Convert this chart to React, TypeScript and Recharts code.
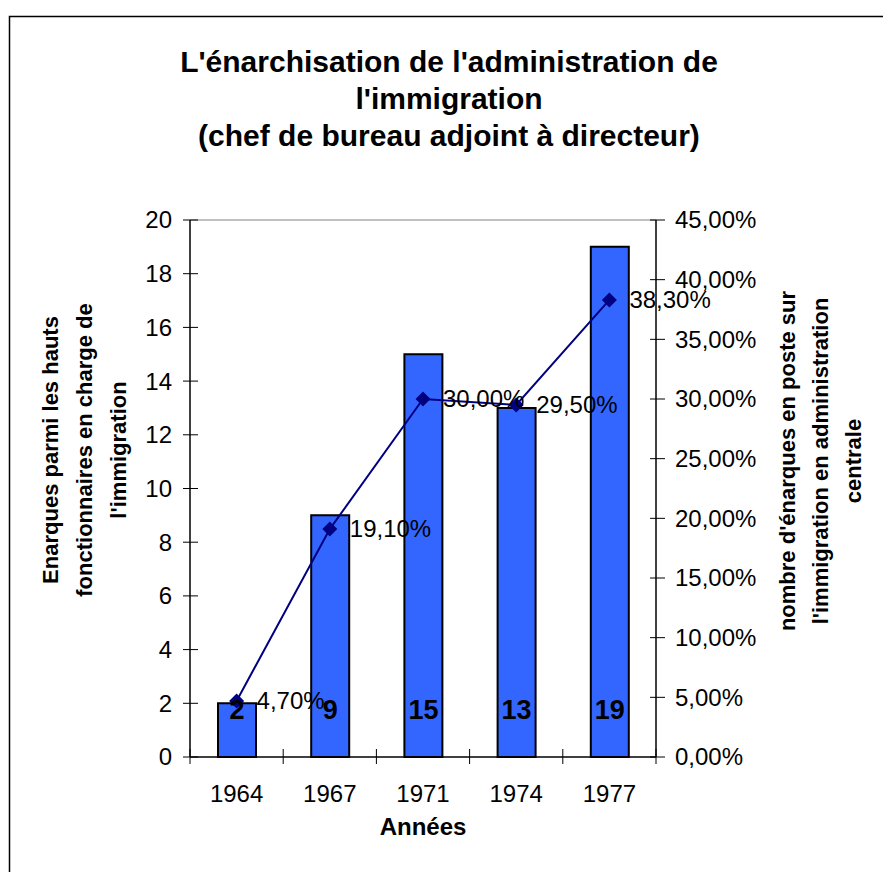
import React from "react";
import {
  ComposedChart, Bar, Line, XAxis, YAxis, LabelList, ReferenceLine,
} from "recharts";

const years = ["1964", "1967", "1971", "1974", "1977"];
const enarques = [2, 9, 15, 13, 19];
const partEnarques = [4.7, 19.1, 30.0, 29.5, 38.3];
const leftTicks = [0, 2, 4, 6, 8, 10, 12, 14, 16, 18, 20];
const rightTicks = [0, 5, 10, 15, 20, 25, 30, 35, 40, 45];

const titleLines = [
  "L'énarchisation de l'administration de",
  "l'immigration",
  "(chef de bureau adjoint à directeur)",
];
const leftTitle = [
  "Enarques parmi les hauts",
  "fonctionnaires en charge de",
  "l'immigration",
];
const rightTitle = [
  "nombre d'énarques en poste sur",
  "l'immigration en administration",
  "centrale",
];

const data = years.map((y, i) => ({
  year: y,
  count: enarques[i],
  pct: partEnarques[i],
}));

const FONT = "'Liberation Sans', Arial, sans-serif";
const BAND = 466 / years.length;

const fmtPct = (v: number) => v.toFixed(2).replace(".", ",") + "%";

function LeftTick({ x, y, payload }: any) {
  return (
    <g>
      <line x1={x - 7} x2={x + 8} y1={y} y2={y} stroke="#000" />
      <text x={x - 18} y={y} dy="0.35em" textAnchor="end" fontSize={24} fontFamily={FONT} fill="#000">
        {payload.value}
      </text>
    </g>
  );
}

function RightTick({ x, y, payload }: any) {
  return (
    <g>
      <line x1={x - 6} x2={x + 9} y1={y} y2={y} stroke="#000" />
      <text x={x + 19} y={y} dy="0.35em" textAnchor="start" fontSize={24} fontFamily={FONT} fill="#000">
        {fmtPct(payload.value)}
      </text>
    </g>
  );
}

function BottomTick({ x, y, payload, index }: any) {
  return (
    <g>
      <line x1={x - BAND / 2} x2={x - BAND / 2} y1={y - 8} y2={y + 7} stroke="#000" />
      {index === years.length - 1 && (
        <line x1={x + BAND / 2} x2={x + BAND / 2} y1={y - 8} y2={y + 7} stroke="#000" />
      )}
      <text x={x} y={y + 45} textAnchor="middle" fontSize={24} fontFamily={FONT} fill="#000">
        {payload.value}
      </text>
    </g>
  );
}

function Diamond({ cx, cy }: any) {
  const s = 7.5;
  return (
    <polygon
      points={`${cx},${cy - s} ${cx + s},${cy} ${cx},${cy + s} ${cx - s},${cy}`}
      fill="#000080"
    />
  );
}

function BarValue({ x, y, width, height, value }: any) {
  return (
    <text
      x={x + width / 2}
      y={y + height - 47}
      dy="0.35em"
      textAnchor="middle"
      fontSize={27}
      fontWeight="bold"
      fontFamily={FONT}
      fill="#000"
    >
      {value}
    </text>
  );
}

function PctValue({ x, y, value }: any) {
  return (
    <text x={x + 20} y={y} dy="0.35em" textAnchor="start" fontSize={24} fontFamily={FONT} fill="#000">
      {fmtPct(value)}
    </text>
  );
}

export default function App() {
  return (
    <div style={{ position: "absolute", left: 0, top: 0, width: 883, height: 872, overflow: "hidden", background: "#fff" }}>
      <ComposedChart
        width={883}
        height={872}
        data={data}
        margin={{ top: 220, right: 167, bottom: 75, left: 130 }}
      >
        <XAxis
          dataKey="year"
          axisLine={{ stroke: "#000", strokeWidth: 1.5 }}
          tickLine={false}
          tickSize={0}
          tickMargin={0}
          height={40}
          tick={<BottomTick />}
          interval={0}
        />
        <YAxis
          yAxisId="left"
          domain={[0, 20]}
          ticks={leftTicks}
          interval={0}
          width={60}
          axisLine={{ stroke: "#000", strokeWidth: 1.5 }}
          tickLine={false}
          tickSize={0}
          tickMargin={0}
          tick={<LeftTick />}
        />
        <YAxis
          yAxisId="right"
          orientation="right"
          domain={[0, 45]}
          ticks={rightTicks}
          interval={0}
          width={60}
          axisLine={{ stroke: "#000", strokeWidth: 1.5 }}
          tickLine={false}
          tickSize={0}
          tickMargin={0}
          tick={<RightTick />}
        />
        <ReferenceLine yAxisId="left" y={20} stroke="#808080" />
        <Bar
          yAxisId="left"
          dataKey="count"
          fill="#3366FF"
          stroke="#000"
          strokeWidth={2}
          barSize={38}
          isAnimationActive={false}
        >
          <LabelList dataKey="count" content={<BarValue />} />
        </Bar>
        <Line
          yAxisId="right"
          type="linear"
          dataKey="pct"
          stroke="#000080"
          strokeWidth={2}
          dot={<Diamond />}
          activeDot={false}
          isAnimationActive={false}
        >
          <LabelList dataKey="pct" content={<PctValue />} />
        </Line>
      </ComposedChart>
      <svg width={883} height={872} style={{ position: "absolute", left: 0, top: 0, pointerEvents: "none" }}>
        <rect x={9.5} y={16.5} width={1000} height={1000} fill="none" stroke="#000" strokeWidth={1.5} />
        {titleLines.map((t, i) => (
          <text key={i} x={449} y={72 + i * 37} textAnchor="middle" fontSize={30} fontWeight="bold" fontFamily={FONT} fill="#000">
            {t}
          </text>
        ))}
        {leftTitle.map((t, i) => (
          <text
            key={i}
            transform={`translate(${50 + i * 34},450) rotate(-90)`}
            dy="0.35em"
            textAnchor="middle"
            fontSize={22}
            fontWeight="bold"
            fontFamily={FONT}
            fill="#000"
          >
            {t}
          </text>
        ))}
        {rightTitle.map((t, i) => (
          <text
            key={i}
            transform={`translate(${787 + i * 33},461) rotate(-90)`}
            dy="0.35em"
            textAnchor="middle"
            fontSize={22}
            fontWeight="bold"
            fontFamily={FONT}
            fill="#000"
          >
            {t}
          </text>
        ))}
        <text x={423} y={835} textAnchor="middle" fontSize={24} fontWeight="bold" fontFamily={FONT} fill="#000">
          Années
        </text>
      </svg>
    </div>
  );
}
